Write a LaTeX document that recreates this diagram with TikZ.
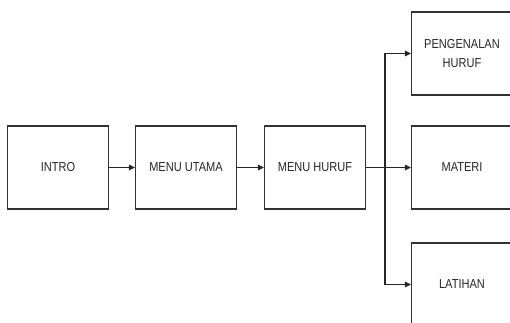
\documentclass[tikz,border=0pt]{standalone}
\usepackage{fontspec}
\setmainfont{Liberation Sans}[FakeStretch=0.85]
\usetikzlibrary{arrows.meta}
\begin{document}
\begin{tikzpicture}[x=1pt,y=-1pt,
  box/.style={draw=black!80,line width=1.1pt,minimum width=101pt,minimum height=83pt,inner sep=0pt,
    font=\fontsize{13}{18.5}\selectfont,align=center,text=black!85},
  conn/.style={draw=black!85,line width=1.1pt,-{Triangle[length=6pt,width=5.5pt]}}]
\useasboundingbox (0,0) rectangle (510,322);
\node[box] (intro) at (58,167.5) {INTRO};
\node[box] (utama) at (186,167.5) {MENU UTAMA};
\node[box] (huruf) at (315,167.5) {MENU HURUF};
\node[box] (peng) at (462,53.5) {PENGENALAN\\HURUF};
\node[box] (materi) at (462,167.5) {MATERI};
\node[box] (latihan) at (462,284.5) {LATIHAN};
\coordinate (split) at (385,167.5);
\draw[conn] (intro) -- (utama);
\draw[conn] (utama) -- (huruf);
\draw[conn] (huruf) -- (materi);
\draw[conn] (split) |- (peng.west);
\draw[conn] (split) |- (latihan.west);
\end{tikzpicture}
\end{document}
